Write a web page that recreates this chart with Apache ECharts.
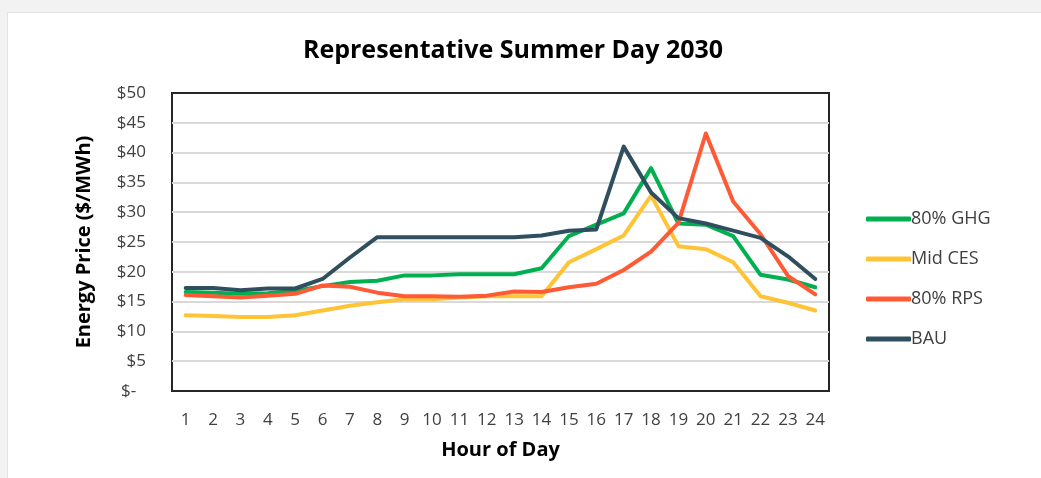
<!DOCTYPE html>
<html>
<head>
<meta charset="utf-8">
<script src="https://cdn.jsdelivr.net/npm/echarts@6/dist/echarts.min.js"></script>
<style>
    html, body { margin: 0; padding: 0; background: #f2f2f2; }
    #frame {
        position: absolute; left: 7px; top: 12px; width: 1034px; height: 466px;
        background: #fff; border-left: 1px solid #e3e3e3; border-top: 1px solid #e3e3e3;
    }
    #chart { position: absolute; left: -8px; top: -13px; width: 1041px; height: 478px; }
</style>
</head>
<body>
<div id="frame"><div id="chart"></div></div>
<script>
// hours of the day
const hours = ['1','2','3','4','5','6','7','8','9','10','11','12','13','14','15','16','17','18','19','20','21','22','23','24'];

// energy price, $/MWh
const ghg80 = [16.6, 16.5, 16.3, 16.4, 16.8, 17.6, 18.3, 18.5, 19.4, 19.4, 19.6, 19.6, 19.6, 20.6, 26.0, 27.9, 29.8, 37.4, 28.1, 27.9, 26.0, 19.5, 18.7, 17.4];
const midCes = [12.7, 12.6, 12.4, 12.4, 12.7, 13.5, 14.3, 14.9, 15.4, 15.4, 15.7, 15.9, 15.9, 15.9, 21.6, 23.8, 26.1, 32.8, 24.3, 23.8, 21.6, 15.9, 14.8, 13.5];
const rps80 = [16.1, 15.9, 15.7, 16.0, 16.3, 17.7, 17.5, 16.5, 15.9, 15.9, 15.8, 16.0, 16.7, 16.6, 17.4, 18.0, 20.3, 23.4, 28.2, 43.2, 31.8, 26.3, 19.3, 16.2];
const bau = [17.3, 17.3, 16.9, 17.2, 17.2, 18.8, 22.4, 25.8, 25.8, 25.8, 25.8, 25.8, 25.8, 26.1, 26.9, 27.1, 41.0, 33.3, 29.0, 28.1, 26.9, 25.7, 22.6, 18.8];

const seriesNames = ['80% GHG', 'Mid CES', '80% RPS', 'BAU'];
const seriesColors = ['#00b050', '#ffc336', '#ff5a35', '#2f4f5e'];

const font = '"Open Sans", "Noto Sans", sans-serif';

let myChart = echarts.init(document.getElementById('chart'));

let lines = [ghg80, midCes, rps80, bau].map((data, i) => ({
    name: seriesNames[i],
    type: 'line',
    data: data,
    symbol: 'none',
    lineStyle: {width: 4, color: seriesColors[i], cap: 'round', join: 'round'},
    itemStyle: {color: seriesColors[i]}
}));

myChart.setOption({
    animation: false,
    title: {
        text: 'Representative Summer Day 2030',
        left: 508, top: 33, textAlign: 'center',
        textStyle: {fontFamily: font, fontSize: 25, fontWeight: 'bold', color: '#000'}
    },
    grid: {left: 172, right: 212, top: 93, bottom: 87, show: true, borderColor: '#262626', borderWidth: 2},
    legend: {
        orient: 'vertical',
        left: 861, top: 205,
        icon: 'roundRect',
        itemWidth: 45, itemHeight: 5, itemGap: 22,
        textStyle: {fontFamily: font, fontSize: 18, color: '#404040', padding: [0, 0, 0, -5]},
        data: seriesNames
    },
    xAxis: {
        type: 'category',
        data: hours,
        boundaryGap: true,
        name: 'Hour of Day',
        nameLocation: 'middle',
        nameGap: 49,
        nameTextStyle: {fontFamily: font, fontSize: 20, fontWeight: 'bold', color: '#000'},
        axisLine: {show: false},
        axisTick: {show: false},
        axisLabel: {fontFamily: font, fontSize: 17, color: '#404040', margin: 21, interval: 0}
    },
    yAxis: {
        type: 'value',
        min: 0, max: 50, interval: 5,
        name: 'Energy Price ($/MWh)',
        nameLocation: 'middle',
        nameGap: 78,
        nameTextStyle: {fontFamily: font, fontSize: 20, fontWeight: 'bold', color: '#000'},
        axisLine: {show: false},
        axisTick: {show: false},
        splitLine: {showMinLine: false, showMaxLine: false, lineStyle: {color: '#d9d9d9', width: 2}},
        axisLabel: {
            fontFamily: font, fontSize: 17, color: '#404040', margin: 26,
            formatter: v => v === 0 ? '$-\u2007' : '$' + v
        }
    },
    series: lines
});
</script>
</body>
</html>
